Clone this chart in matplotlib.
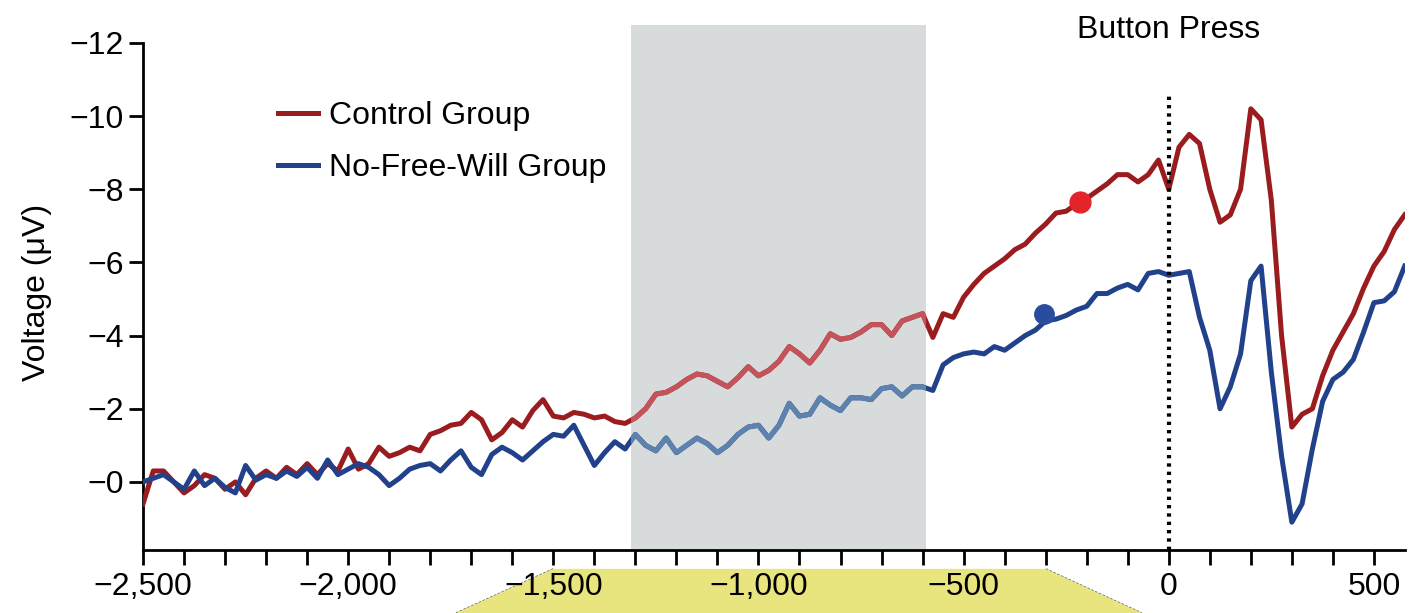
import matplotlib
matplotlib.use("Agg")
import matplotlib.pyplot as plt
import matplotlib.transforms as mtransforms
from matplotlib.patches import Polygon
import numpy as np

plt.rcParams['font.family'] = ['Liberation Sans', 'DejaVu Sans']

# time axis (ms relative to button press), 25 ms steps
time_ms = np.arange(-2500, 576, 25)

control = [
    0.6, -0.3, -0.3, 0.0, 0.3, 0.1, -0.2, -0.1,            # -2500
    0.2, 0.0, 0.35, -0.1, -0.3, -0.1, -0.4, -0.2,          # -2300
    -0.5, -0.2, -0.5, -0.3, -0.9, -0.35, -0.5, -0.95,      # -2100
    -0.7, -0.8, -0.95, -0.85, -1.3, -1.4, -1.55, -1.6,     # -1900
    -1.9, -1.7, -1.15, -1.35, -1.7, -1.5, -1.95, -2.25,    # -1700
    -1.8, -1.75, -1.9, -1.85, -1.75, -1.8, -1.65, -1.6,    # -1500
    -1.75, -2.0, -2.4, -2.45, -2.6, -2.8, -2.95, -2.9,     # -1300
    -2.75, -2.6, -2.85, -3.15, -2.9, -3.05, -3.3, -3.7,    # -1100
    -3.5, -3.25, -3.6, -4.05, -3.9, -3.95, -4.1, -4.3,     # -900
    -4.3, -4.0, -4.4, -4.5, -4.6, -3.95, -4.6, -4.5,       # -700
    -5.05, -5.4, -5.7, -5.9, -6.1, -6.35, -6.5, -6.8,      # -500
    -7.05, -7.35, -7.4, -7.6, -7.75, -7.95, -8.15, -8.4,   # -300
    -8.4, -8.2, -8.4, -8.8, -8.0, -9.15, -9.5, -9.25,      # -100
    -8.0, -7.1, -7.3, -8.0, -10.2, -9.9, -7.7, -4.0,       # 100
    -1.5, -1.85, -2.0, -2.9, -3.6, -4.1, -4.6, -5.3,       # 300
    -5.9, -6.3, -6.9, -7.3,                                # 500
]

no_free_will = [
    0.0, -0.1, -0.2, 0.0, 0.2, -0.3, 0.1, -0.1,            # -2500
    0.15, 0.3, -0.45, -0.05, -0.2, -0.1, -0.3, -0.15,      # -2300
    -0.4, -0.1, -0.6, -0.2, -0.35, -0.5, -0.4, -0.2,       # -2100
    0.1, -0.1, -0.35, -0.45, -0.5, -0.3, -0.6, -0.85,      # -1900
    -0.4, -0.2, -0.75, -0.95, -0.8, -0.6, -0.85, -1.1,     # -1700
    -1.3, -1.25, -1.55, -1.0, -0.45, -0.8, -1.1, -0.9,     # -1500
    -1.3, -1.0, -0.85, -1.2, -0.8, -1.0, -1.2, -1.05,      # -1300
    -0.8, -1.0, -1.3, -1.5, -1.55, -1.2, -1.55, -2.15,     # -1100
    -1.8, -1.85, -2.3, -2.1, -1.95, -2.3, -2.3, -2.25,     # -900
    -2.55, -2.6, -2.35, -2.6, -2.6, -2.5, -3.2, -3.4,      # -700
    -3.5, -3.55, -3.5, -3.7, -3.6, -3.8, -4.0, -4.15,      # -500
    -4.4, -4.45, -4.55, -4.7, -4.8, -5.15, -5.15, -5.3,    # -300
    -5.4, -5.25, -5.7, -5.75, -5.65, -5.7, -5.75, -4.5,    # -100
    -3.6, -2.0, -2.6, -3.5, -5.5, -5.9, -3.0, -0.7,        # 100
    1.1, 0.6, -0.9, -2.2, -2.8, -3.0, -3.35, -4.1,         # 300
    -4.9, -4.95, -5.2, -5.9,                               # 500
]

dot_times = [-217, -303]
dot_values = [-7.64, -4.58]

shade_window = (-1311, -591)
xtick_major = [-2500, -2000, -1500, -1000, -500, 0, 500]
xtick_labels = ['\u22122,500', '\u22122,000', '\u22121,500', '\u22121,000', '\u2212500', '0', '500']
ytick_vals = [-12, -10, -8, -6, -4, -2, 0]
ytick_labels = ['\u221212', '\u221210', '\u22128', '\u22126', '\u22124', '\u22122', '\u22120']

red = '#9a1c1f'
red_light = '#c4545c'
blue = '#21418b'
blue_light = '#5d82ad'
FS = 23

fig = plt.figure(figsize=(14.16, 6.13), dpi=100)
ax = fig.add_axes([0.101, 0.1028, 0.891, 0.8564])
ax.set_facecolor('none')

ax.set_xlim(-2500, 575)
ax.set_ylim(1.86, -12.49)

span = ax.axvspan(shade_window[0], shade_window[1], color='#d8dbdb', lw=0, zorder=0)

ax.plot(time_ms, control, color=red, lw=3.6, zorder=3, label='Control Group')
ax.plot(time_ms, no_free_will, color=blue, lw=3.6, zorder=3, label='No-Free-Will Group')

# lighter traces inside the shaded window
l1, = ax.plot(time_ms, control, color=red_light, lw=3.6, zorder=4)
l2, = ax.plot(time_ms, no_free_will, color=blue_light, lw=3.6, zorder=4)
l1.set_clip_path(span)
l2.set_clip_path(span)

ax.plot(dot_times[0], dot_values[0], 'o', color='#e3242b', ms=15, zorder=5)
ax.plot(dot_times[1], dot_values[1], 'o', color='#2a4c9e', ms=14, zorder=5)

ax.plot([0, 0], [1.86, -10.6], color='black', lw=3, linestyle=(0, (0.8, 1.2)), zorder=6)
ax.text(0, -12.35, 'Button Press', ha='center', va='center', fontsize=FS, clip_on=False)

for s in ['top', 'right']:
    ax.spines[s].set_visible(False)
ax.spines['left'].set_bounds(1.86, -12)
ax.spines['left'].set_linewidth(2)
ax.spines['bottom'].set_linewidth(2)

ax.set_xticks(xtick_major)
ax.set_xticklabels(xtick_labels)
ax.set_xticks(np.arange(-2500, 576, 100), minor=True)
ax.set_yticks(ytick_vals)
ax.set_yticklabels(ytick_labels)
ax.tick_params(axis='x', which='both', direction='out', length=11, width=2, pad=5, labelsize=FS)
ax.tick_params(axis='y', direction='out', length=10, width=2, pad=4, labelsize=FS)

ax.set_ylabel('Voltage (\u03bcV)', fontsize=FS)
ax.yaxis.set_label_coords(-0.072, 0.49)

ax.legend(loc='upper left', bbox_to_anchor=(0.084, 0.91), frameon=False, fontsize=FS,
          handlelength=1.25, handletextpad=0.35, labelspacing=0.68)

# yellow zoom callout under the time axis
trans = mtransforms.blended_transform_factory(ax.transData, fig.transFigure)
callout = Polygon([(-1500, 0.072), (-300, 0.072), (-66, 0.0), (-1737, 0.0)],
                  closed=True, transform=trans, facecolor='#e9e57e', edgecolor='none',
                  zorder=-1, clip_on=False)
fig.patches.append(callout)
fig.lines.append(plt.Line2D([-1500, -1737], [0.072, 0.0], transform=trans, color='#666666',
                            lw=1, ls=(0, (2, 1)), zorder=-1))
fig.lines.append(plt.Line2D([-300, -66], [0.072, 0.0], transform=trans, color='#666666',
                            lw=1, ls=(0, (2, 1)), zorder=-1))

fig.savefig('out.png', dpi=100)
